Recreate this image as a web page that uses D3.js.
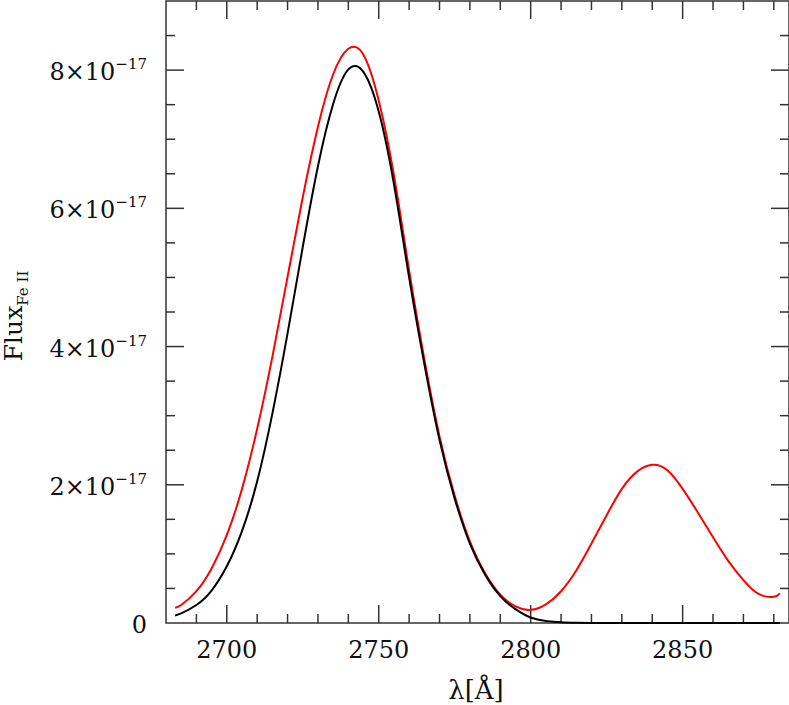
<!DOCTYPE html>
<html>
<head>
<meta charset="utf-8">
<script src="https://cdn.jsdelivr.net/npm/d3@7"></script>
<style>
  html, body { margin: 0; padding: 0; background: #fff; }
  svg { display: block; }
  text { font-family: 'DejaVu Serif', serif; fill: #111; }
</style>
</head>
<body>
<svg id="chart" width="789" height="705"></svg>
<script>
// ==========================================================================
// DADOS
// ==========================================================================

// comprimento de onda (Å)
const lambda = [2683, 2685, 2690, 2695, 2700, 2705, 2710, 2715, 2720, 2725,
    2730, 2735, 2740, 2745, 2750, 2755, 2760, 2765, 2770, 2775,
    2780, 2785, 2790, 2795, 2800, 2805, 2810, 2815, 2820, 2825,
    2830, 2835, 2840, 2845, 2850, 2855, 2860, 2865, 2870, 2875,
    2880, 2882];

// fluxo em unidades de 1e-17
const fluxBlack = [0.11, 0.14, 0.26, 0.47, 0.82, 1.33, 2.05, 3.03, 4.19, 5.44,
    6.61, 7.51, 8.01, 7.97, 7.40, 6.35, 5.00, 3.75, 2.65, 1.80,
    1.15, 0.70, 0.39, 0.20, 0.08, 0.03, 0.01, 0.003, 0, 0,
    0, 0, 0, 0, 0, 0, 0, 0, 0, 0,
    0, 0];

const fluxRed = [0.22, 0.26, 0.46, 0.79, 1.27, 1.94, 2.81, 3.85, 5.01, 6.16,
    7.18, 7.94, 8.31, 8.22, 7.56, 6.48, 5.10, 3.82, 2.70, 1.84,
    1.18, 0.72, 0.41, 0.24, 0.19, 0.27, 0.46, 0.76, 1.15, 1.56,
    1.94, 2.19, 2.29, 2.21, 1.94, 1.60, 1.24, 0.90, 0.62, 0.42,
    0.38, 0.43];

const xTicks = [2700, 2750, 2800, 2850];
const yTicks = [0, 2, 4, 6, 8];   // x 1e-17

// ==========================================================================
// LAYOUT
// ==========================================================================

const svg = d3.select('#chart');
const plotLeft = 166, plotRight = 789, plotTop = 1, plotBottom = 623;

const x = d3.scaleLinear().domain([2680, 2885]).range([plotLeft, plotRight]);
const y = d3.scaleLinear().domain([0, 9]).range([plotBottom, plotTop]);

const axisColor = '#333';

// ticks menores / maiores
const xMinor = d3.range(2690, 2885, 10);
const yMinor = d3.range(0.5, 9, 0.5);

function tickLen(isMajor) { return isMajor ? 18 : 9; }

const g = svg.append('g');

// ticks do eixo x (baixo e cima)
xMinor.forEach(v => {
    const major = v % 50 === 0;
    const px = x(v);
    g.append('line').attr('x1', px).attr('x2', px)
        .attr('y1', plotBottom).attr('y2', plotBottom - tickLen(major))
        .attr('stroke', axisColor).attr('stroke-width', 1.5);
    g.append('line').attr('x1', px).attr('x2', px)
        .attr('y1', plotTop).attr('y2', plotTop + tickLen(major))
        .attr('stroke', axisColor).attr('stroke-width', 1.5);
});

// ticks do eixo y (esquerda e direita)
yMinor.forEach(v => {
    const major = Math.abs(v % 2) < 1e-9;
    const py = y(v);
    g.append('line').attr('x1', plotLeft).attr('x2', plotLeft + tickLen(major))
        .attr('y1', py).attr('y2', py)
        .attr('stroke', axisColor).attr('stroke-width', 1.5);
    g.append('line').attr('x1', plotRight).attr('x2', plotRight - tickLen(major))
        .attr('y1', py).attr('y2', py)
        .attr('stroke', axisColor).attr('stroke-width', 1.5);
});

// moldura
g.append('rect')
    .attr('x', plotLeft).attr('y', plotTop)
    .attr('width', plotRight - plotLeft).attr('height', plotBottom - plotTop)
    .attr('fill', 'none').attr('stroke', axisColor).attr('stroke-width', 1.5);

// rótulos x
g.selectAll('.xlab').data(xTicks).enter().append('text')
    .attr('class', 'xlab')
    .attr('x', d => x(d))
    .attr('y', 658)
    .attr('text-anchor', 'middle')
    .style('font-size', '24px')
    .text(d => d);

// rótulos y
yTicks.forEach(v => {
    const t = g.append('text')
        .attr('x', 147)
        .attr('y', y(v) + 10)
        .attr('text-anchor', 'end')
        .style('font-size', '24px');
    if (v === 0) {
        t.text('0');
    } else {
        t.append('tspan').text(v + '×10');
        t.append('tspan').attr('dy', -11).style('font-size', '15px').text('−17');
    }
});

// títulos dos eixos
svg.append('text')
    .attr('x', 476).attr('y', 699)
    .attr('text-anchor', 'middle')
    .style('font-size', '26px')
    .text('λ[Å]');

const yt = svg.append('text')
    .attr('transform', 'translate(22,316) rotate(-90)')
    .attr('text-anchor', 'middle')
    .style('font-size', '25px');
yt.append('tspan').text('Flux');
yt.append('tspan').attr('dy', 6).style('font-size', '15px').text('Fe II');

// ==========================================================================
// CURVAS
// ==========================================================================

const line = d3.line()
    .x(d => x(d[0]))
    .y(d => y(d[1]))
    .curve(d3.curveNatural);

svg.append('path')
    .datum(lambda.map((l, i) => [l, fluxRed[i]]))
    .attr('d', line)
    .attr('fill', 'none')
    .attr('stroke', '#ff0000')
    .attr('stroke-width', 2);

svg.append('path')
    .datum(lambda.map((l, i) => [l, fluxBlack[i]]))
    .attr('d', line)
    .attr('fill', 'none')
    .attr('stroke', '#000')
    .attr('stroke-width', 2);
</script>
</body>
</html>
